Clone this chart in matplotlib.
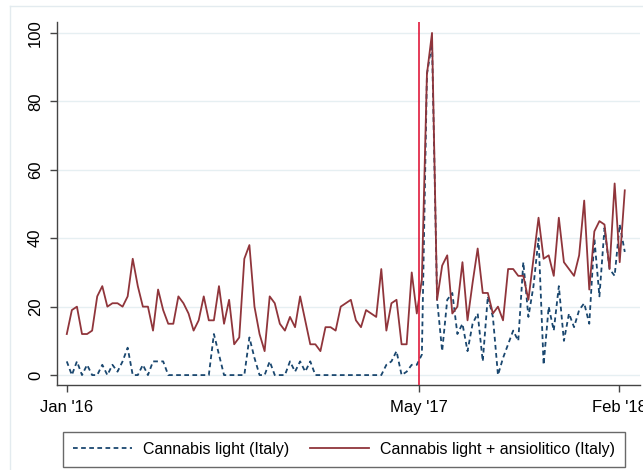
import matplotlib
matplotlib.use("Agg")
import matplotlib.pyplot as plt
from matplotlib.lines import Line2D
import pandas as pd

# ---- data (weekly search interest) ----
start_date = "2016-01-01"
n_weeks = 111

cannabis_light = [
    4, 0, 4, 0, 3, 0, 0, 3, 0, 3,
    1, 4, 8, 0, 0, 3, 0, 4, 4, 4,
    0, 0, 0, 0, 0, 0, 0, 0, 0, 12,
    6, 0, 0, 0, 0, 0, 11,
    5, 0, 0, 4, 0, 0, 0, 4, 1, 4,
    1, 4, 0, 0, 0, 0, 0, 0, 0, 0,
    0, 0, 0, 0, 0, 0, 3, 4, 7, 0,
    1, 3, 3, 6, 88, 97,
    22, 7, 22, 24, 12, 15, 7, 15, 18, 4,
    23, 17, 0, 5, 9, 13, 10, 33, 17, 26,
    40, 3, 20, 13, 26, 10, 18, 14, 19, 21,
    15, 40, 23, 43, 31, 29, 44, 36,
]

cannabis_ansiolitico = [
    12, 19, 20, 12, 12, 13, 23, 26, 20, 21,
    21, 20, 23, 34, 26, 20, 20, 13, 25, 19,
    15, 15, 23, 21, 18, 13, 16, 23, 16, 16,
    26, 15, 22, 9, 11, 34, 38,
    20, 12, 7, 23, 21, 15, 13, 17, 14, 23,
    16, 9, 9, 7, 14, 14, 13, 20, 21, 22,
    16, 14, 19, 18, 17, 31, 13, 21, 22, 9,
    9, 30, 18, 28, 88, 100,
    22, 32, 35, 18, 20, 33, 16, 27, 37, 24,
    24, 18, 20, 16, 31, 31, 29, 29, 22, 34,
    46, 34, 35, 29, 46, 33, 31, 29, 35, 51,
    25, 42, 45, 44, 31, 56, 33, 54,
]

tick_dates = ["2016-01-01", "2017-05-01", "2018-02-01"]
tick_labels = ["Jan '16", "May '17", "Feb '18"]
event_date = "2017-05-01"
y_ticks = [0, 20, 40, 60, 80, 100]
label_blue = "Cannabis light (Italy)"
label_red = "Cannabis light + ansiolitico (Italy)"

dates = pd.date_range(start_date, periods=n_weeks, freq="7D")

# ---- style ----
plt.rcParams['font.family'] = ['Liberation Sans', 'DejaVu Sans']
W, H = 643, 470
fig = plt.figure(figsize=(W / 100, H / 100), dpi=100)
ax = fig.add_axes([57 / W, 1 - 385 / H, (640 - 57) / W, (385 - 22) / H])

blue = "#1a476f"
red = "#90353b"
vred = "#e01a3c"
grid_c = "#e6eff2"

ax.plot(dates, cannabis_light, color=blue, lw=1.3, ls=(0, (2.6, 1.9)),
        label=label_blue, zorder=3)
ax.plot(dates, cannabis_ansiolitico, color=red, lw=1.3, label=label_red, zorder=3)
ax.axvline(pd.Timestamp(event_date), color=vred, lw=1.2, zorder=4)

ax.set_ylim(-2.9, 103.2)
x0 = pd.Timestamp("2016-01-01") - pd.Timedelta(days=13.5)
x1 = pd.Timestamp("2016-01-01") + pd.Timedelta(days=791)
ax.set_xlim(x0, x1)

ax.set_yticks(y_ticks)
ax.set_yticklabels([str(v) for v in y_ticks], rotation=90, va="center", fontsize=12)
ax.set_xticks([pd.Timestamp(d) for d in tick_dates])
ax.set_xticklabels(tick_labels, fontsize=12)

ax.grid(axis="y", color=grid_c, lw=1.0, zorder=0)
ax.set_axisbelow(True)
for s in ["top", "right"]:
    ax.spines[s].set_visible(False)
for s in ["left", "bottom"]:
    ax.spines[s].set_color("#444444")
    ax.spines[s].set_linewidth(1.0)
ax.tick_params(axis="both", length=5, width=1, color="#444444", labelcolor="black")
ax.tick_params(axis="y", pad=5)
ax.tick_params(axis="x", pad=6)

# faint outer frame (Stata style)
fig.add_artist(Line2D([10 / W, 10 / W], [0, 1 - 6 / H], color="#e3ebef", lw=1,
                      transform=fig.transFigure))
fig.add_artist(Line2D([10 / W, 1], [1 - 6 / H, 1 - 6 / H], color="#e3ebef", lw=1,
                      transform=fig.transFigure))

leg = fig.legend(loc="center", bbox_to_anchor=(344 / W, 1 - 449.5 / H), ncol=2,
                 fontsize=11.5, frameon=True, fancybox=False, edgecolor="#444444",
                 handlelength=3.7, handletextpad=0.7, columnspacing=1.3,
                 borderpad=0.6)
leg.get_frame().set_linewidth(1.0)

fig.savefig("out.png", dpi=100)
